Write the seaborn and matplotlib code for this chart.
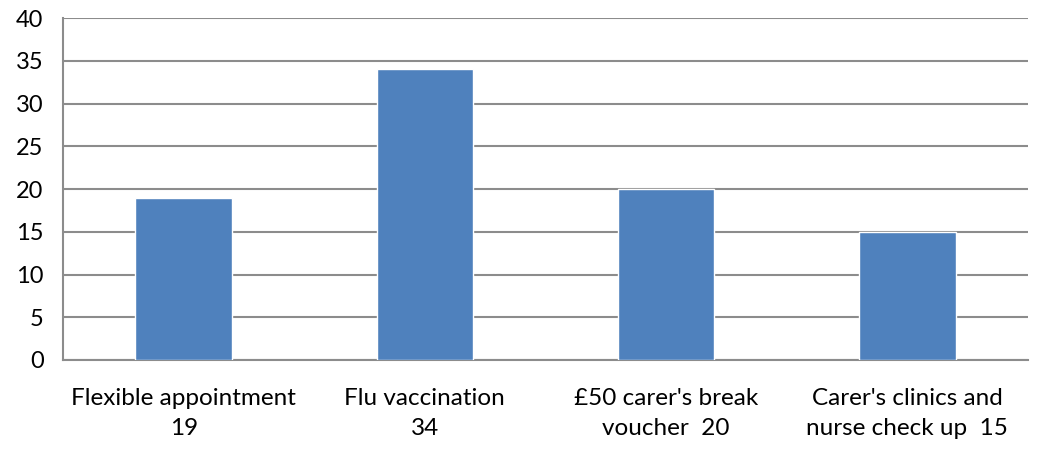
import pandas as pd
import matplotlib.pyplot as plt
import seaborn as sns

# data
categories = ["Flexible appointment\n19", "Flu vaccination\n34",
              "£50 carer's break\nvoucher  20", "Carer's clinics and\nnurse check up  15"]
counts = [19, 34, 20, 15]
yticks = [0, 5, 10, 15, 20, 25, 30, 35, 40]

df = pd.DataFrame({'category': categories, 'count': counts})

sns.set_style('white')
plt.rcParams['font.family'] = ['Lato', 'DejaVu Sans']

fig = plt.figure(figsize=(10.5, 4.59), dpi=100)
ax = fig.add_axes([0.06, 0.2157, 0.919, 0.745])

grid_c = '#8c8c8c'
sns.barplot(data=df, x='category', y='count', color='#4F81BD', width=0.4,
            saturation=1, ax=ax, zorder=3)

ax.set_ylim(0, 40)
ax.set_xlim(-0.5, len(categories) - 0.5)
ax.set_yticks(yticks)
ax.yaxis.grid(True, color=grid_c, linewidth=1.5, zorder=0)
ax.set_axisbelow(True)
ax.set_xlabel('')
ax.set_ylabel('')

for side in ['top', 'right']:
    ax.spines[side].set_visible(False)
for side in ['left', 'bottom']:
    ax.spines[side].set_color(grid_c)
    ax.spines[side].set_linewidth(1.5)

ax.tick_params(axis='y', length=8, width=1.5, color=grid_c, labelsize=17, pad=6,
               labelcolor='black')
ax.tick_params(axis='x', which='major', length=0, labelsize=17.5, pad=20,
               labelcolor='black')
ax.set_xticks([i - 0.5 for i in range(len(categories) + 1)], minor=True)
ax.tick_params(axis='x', which='minor', length=8, width=1.5, color=grid_c)
for lbl in ax.get_xticklabels():
    lbl.set_linespacing(1.55)

fig.savefig('out.png', dpi=100)
